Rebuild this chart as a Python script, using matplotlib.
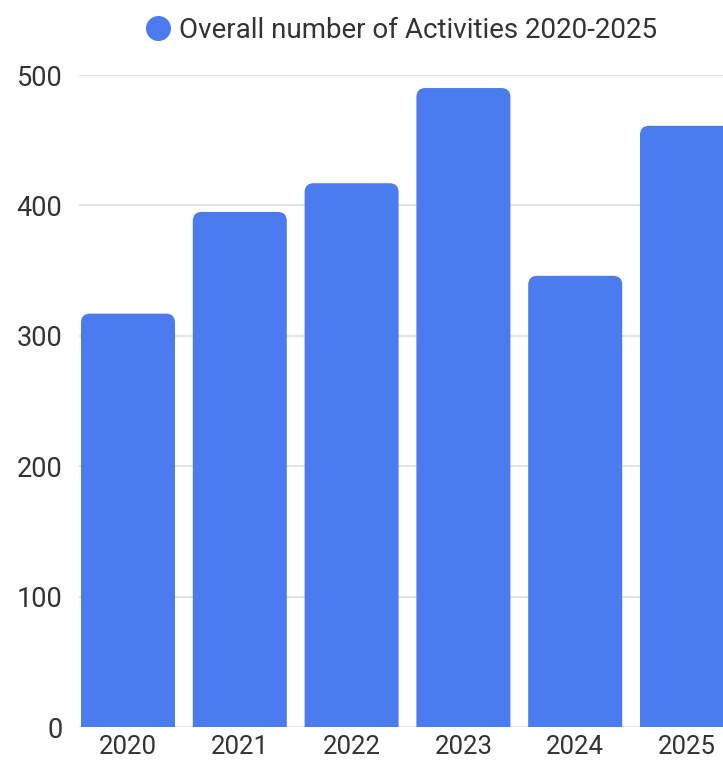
import matplotlib
matplotlib.use("Agg")
import matplotlib.pyplot as plt
from matplotlib.patches import FancyBboxPatch
from matplotlib.lines import Line2D

# Activity counts per year
years = ["2020", "2021", "2022", "2023", "2024", "2025"]
activities = [317, 395, 417, 490, 346, 461]
series_name = "Overall number of Activities 2020-2025"
y_ticks = [0, 100, 200, 300, 400, 500]

BAR_COLOR = "#4a7bef"
TEXT_COLOR = "#333333"
GRID_COLOR = "#e2e2e2"

plt.rcParams["font.family"] = ["Roboto", "DejaVu Sans"]

W, H, DPI = 723, 763, 100
fig = plt.figure(figsize=(W / DPI, H / DPI), dpi=DPI)
fig.patch.set_facecolor("white")

# axes box in pixels: left 79, right beyond the canvas, bottom 727 (from top), top 75
left_px, bottom_px, top_px = 79, 727, 75
pitch_px = 111.8
center0_px = 128
x_left = -(center0_px - left_px) / pitch_px
x_right = (W - center0_px) / pitch_px
ax = fig.add_axes([left_px / W, (H - bottom_px) / H, 1 - left_px / W, (bottom_px - top_px) / H])
ax.set_xlim(x_left, x_right)
ax.set_ylim(0, 500)

for s in ax.spines.values():
    s.set_visible(False)

ax.set_yticks(y_ticks)
ax.set_yticklabels([str(t) for t in y_ticks])
ax.set_xticks(range(len(years)))
ax.set_xticklabels(years)
ax.tick_params(axis="y", length=0, pad=12, labelsize=19.5, labelcolor=TEXT_COLOR)
ax.tick_params(axis="x", length=0, pad=6, labelsize=18.5, labelcolor=TEXT_COLOR)

ax.set_axisbelow(True)
ax.grid(axis="y", color=GRID_COLOR, linewidth=1.3)
ax.grid(axis="x", visible=False)

# rounded-top bars: radius given in pixels, converted to data units on both axes
fig.canvas.draw()
p0 = ax.transData.transform((0, 0))
p1 = ax.transData.transform((1, 100))
px_per_x = p1[0] - p0[0]
px_per_y = (p1[1] - p0[1]) / 100
radius_px = 9
rx = radius_px / px_per_x
ry = radius_px / px_per_y
bar_width = 94 / pitch_px

for i, v in enumerate(activities):
    patch = FancyBboxPatch(
        (i - bar_width / 2, -ry), bar_width, v + ry,
        boxstyle=f"round,pad=0,rounding_size={rx}",
        mutation_aspect=ry / rx,
        facecolor=BAR_COLOR, edgecolor="none", zorder=3,
    )
    ax.add_patch(patch)

handle = Line2D([], [], marker="o", linestyle="none", markersize=17,
                markerfacecolor=BAR_COLOR, markeredgecolor=BAR_COLOR)
fig.legend(handles=[handle], labels=[series_name], loc="center",
           bbox_to_anchor=(401 / W, 1 - 30 / H), frameon=False,
           fontsize=20, labelcolor=TEXT_COLOR, handletextpad=0.3,
           handlelength=0.9, borderpad=0)

fig.savefig("out.png", dpi=DPI, facecolor="white")
